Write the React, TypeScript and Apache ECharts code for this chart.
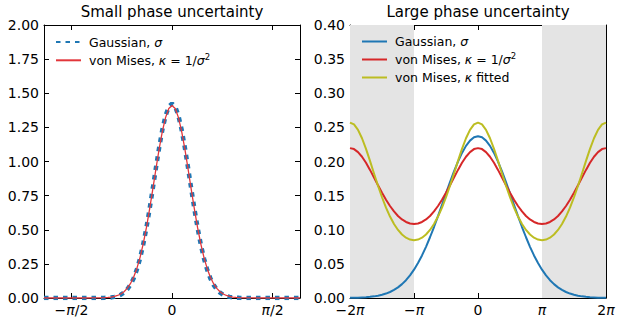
import React, { useEffect, useRef } from "react";
import * as echarts from "echarts";

const PI = Math.PI;
const FONT = "DejaVu Sans";

// ---------- Left panel: small phase uncertainty ----------
const xSmall = [
  -2.0, -1.95, -1.9, -1.85, -1.8, -1.75, -1.7, -1.65, -1.6, -1.55, -1.5, -1.45, -1.4, -1.35, -1.3, -1.25,
  -1.2, -1.15, -1.1, -1.05, -1.0, -0.95, -0.9, -0.85, -0.8, -0.75, -0.7, -0.65, -0.6, -0.55, -0.5, -0.45,
  -0.4, -0.35, -0.3, -0.25, -0.2, -0.15, -0.1, -0.05, 0.0, 0.05, 0.1, 0.15, 0.2, 0.25, 0.3, 0.35, 0.4,
  0.45, 0.5, 0.55, 0.6, 0.65, 0.7, 0.75, 0.8, 0.85, 0.9, 0.95, 1.0, 1.05, 1.1, 1.15, 1.2, 1.25, 1.3,
  1.35, 1.4, 1.45, 1.5, 1.55, 1.6, 1.65, 1.7, 1.75, 1.8, 1.85, 1.9, 1.95, 2.0,
];
const gaussSmall = [
  0, 0, 0, 0, 0, 0, 0, 0, 0, 0, 0, 0, 0, 0, 0, 0,
  0.0001, 0.0003, 0.0006, 0.0013, 0.0024, 0.0045, 0.0081, 0.0142, 0.024, 0.0394, 0.0626, 0.0963,
  0.1434, 0.207, 0.2893, 0.3917, 0.5136, 0.6523, 0.8026, 0.9564, 1.1039, 1.2344, 1.3368, 1.4023,
  1.4248,
  1.4023, 1.3368, 1.2344, 1.1039, 0.9564, 0.8026, 0.6523, 0.5136, 0.3917, 0.2893, 0.207, 0.1434,
  0.0963, 0.0626, 0.0394, 0.024, 0.0142, 0.0081, 0.0045, 0.0024, 0.0013, 0.0006, 0.0003, 0.0001,
  0, 0, 0, 0, 0, 0, 0, 0, 0, 0, 0, 0, 0, 0, 0, 0,
];
const vonMisesSmall = [
  0, 0, 0, 0, 0, 0, 0, 0, 0, 0, 0, 0, 0, 0,
  0.0001, 0.0002, 0.0004, 0.0007, 0.0013, 0.0023, 0.004, 0.0068, 0.0113, 0.0184, 0.0295, 0.046,
  0.0703, 0.1047, 0.152, 0.215, 0.296, 0.3962, 0.5153, 0.6509, 0.7979, 0.9487, 1.0938, 1.2222,
  1.3233, 1.3881,
  1.4104,
  1.3881, 1.3233, 1.2222, 1.0938, 0.9487, 0.7979, 0.6509, 0.5153, 0.3962, 0.296, 0.215, 0.152,
  0.1047, 0.0703, 0.046, 0.0295, 0.0184, 0.0113, 0.0068, 0.004, 0.0023, 0.0013, 0.0007, 0.0004,
  0.0002, 0.0001,
  0, 0, 0, 0, 0, 0, 0, 0, 0, 0, 0, 0, 0, 0,
];

// ---------- Right panel: large phase uncertainty (x in units of pi) ----------
const xLargeOverPi = [
  -2, -1.9375, -1.875, -1.8125, -1.75, -1.6875, -1.625, -1.5625, -1.5, -1.4375, -1.375, -1.3125, -1.25,
  -1.1875, -1.125, -1.0625, -1, -0.9375, -0.875, -0.8125, -0.75, -0.6875, -0.625, -0.5625, -0.5,
  -0.4375, -0.375, -0.3125, -0.25, -0.1875, -0.125, -0.0625, 0, 0.0625, 0.125, 0.1875, 0.25, 0.3125,
  0.375, 0.4375, 0.5, 0.5625, 0.625, 0.6875, 0.75, 0.8125, 0.875, 0.9375, 1, 1.0625, 1.125, 1.1875,
  1.25, 1.3125, 1.375, 1.4375, 1.5, 1.5625, 1.625, 1.6875, 1.75, 1.8125, 1.875, 1.9375, 2,
];
const gaussLarge = [
  0.0002, 0.0003, 0.0005, 0.0008, 0.0011, 0.0017, 0.0024, 0.0034, 0.0047, 0.0065, 0.0088, 0.0118,
  0.0156, 0.0203, 0.0261, 0.0332, 0.0415, 0.0513, 0.0624, 0.075, 0.089, 0.104, 0.12, 0.1366, 0.1533,
  0.1698, 0.1855, 0.1999, 0.2126, 0.2229, 0.2306, 0.2354,
  0.237,
  0.2354, 0.2306, 0.2229, 0.2126, 0.1999, 0.1855, 0.1698, 0.1533, 0.1366, 0.12, 0.104, 0.089, 0.075,
  0.0624, 0.0513, 0.0415, 0.0332, 0.0261, 0.0203, 0.0156, 0.0118, 0.0088, 0.0065, 0.0047, 0.0034,
  0.0024, 0.0017, 0.0011, 0.0008, 0.0005, 0.0003, 0.0002,
];
const vonMisesLarge = [
  0.2196, 0.2182, 0.2138, 0.207, 0.1981, 0.1877, 0.1766, 0.1653, 0.1543, 0.144, 0.1348, 0.1268,
  0.1202, 0.1151, 0.1114, 0.1092, 0.1084, 0.1092, 0.1114, 0.1151, 0.1202, 0.1268, 0.1348, 0.144,
  0.1543, 0.1653, 0.1766, 0.1877, 0.1981, 0.207, 0.2138, 0.2182,
  0.2196,
  0.2182, 0.2138, 0.207, 0.1981, 0.1877, 0.1766, 0.1653, 0.1543, 0.144, 0.1348, 0.1268, 0.1202,
  0.1151, 0.1114, 0.1092, 0.1084, 0.1092, 0.1114, 0.1151, 0.1202, 0.1268, 0.1348, 0.144, 0.1543,
  0.1653, 0.1766, 0.1877, 0.1981, 0.207, 0.2138, 0.2182, 0.2196,
];
const vonMisesFitted = [
  0.2571, 0.2543, 0.2464, 0.2341, 0.2185, 0.2009, 0.1825, 0.1645, 0.1476, 0.1324, 0.1193, 0.1084,
  0.0997, 0.093, 0.0884, 0.0856, 0.0847, 0.0856, 0.0884, 0.093, 0.0997, 0.1084, 0.1193, 0.1324,
  0.1476, 0.1645, 0.1825, 0.2009, 0.2185, 0.2341, 0.2464, 0.2543,
  0.2571,
  0.2543, 0.2464, 0.2341, 0.2185, 0.2009, 0.1825, 0.1645, 0.1476, 0.1324, 0.1193, 0.1084, 0.0997,
  0.093, 0.0884, 0.0856, 0.0847, 0.0856, 0.0884, 0.093, 0.0997, 0.1084, 0.1193, 0.1324, 0.1476,
  0.1645, 0.1825, 0.2009, 0.2185, 0.2341, 0.2464, 0.2543, 0.2571,
];

const titles = ["Small phase uncertainty", "Large phase uncertainty"];
const smallTicks = [-PI / 2, 0, PI / 2];
const largeTicks = [-2 * PI, -PI, 0, PI, 2 * PI];
const shadedRegions = [
  [-2 * PI, -PI],
  [PI, 2 * PI],
];
const legendLabels: Record<string, string> = {
  gS: "Gaussian, {i|σ}",
  vmS: "von Mises, {i|κ} = 1/{i|σ}{sup|2}",
  gL: "Gaussian, {i|σ}",
  vmL: "von Mises, {i|κ} = 1/{i|σ}{sup|2}",
  vmF: "von Mises, {i|κ} fitted",
};

const BLUE = "#1f77b4";
const RED = "#d62728";
const OLIVE = "#bcbd22";

const labelRich = {
  i: { fontStyle: "italic", fontFamily: FONT, fontSize: 14, color: "#000" },
};

function smallFmt(v: number) {
  if (v < -0.1) return "−{i|π}/2";
  if (v > 0.1) return "{i|π}/2";
  return "0";
}
function largeFmt(v: number) {
  const k = Math.round(v / PI);
  const m: Record<string, string> = { "-2": "−2{i|π}", "-1": "−{i|π}", "0": "0", "1": "{i|π}", "2": "2{i|π}" };
  return m[String(k)];
}

function xAx(gridIndex: number, position: string, min: number, max: number, ticks: number[], fmt: any, showLabel: boolean) {
  return {
    type: "value",
    gridIndex,
    position,
    min,
    max,
    axisLine: { show: true, onZero: false, lineStyle: { color: "#000", width: 1 } },
    axisTick: { show: true, inside: true, length: 5, lineStyle: { color: "#000", width: 1 }, customValues: ticks },
    axisLabel: {
      show: showLabel,
      customValues: ticks,
      formatter: fmt,
      margin: 5,
      color: "#000",
      fontFamily: FONT,
      fontSize: 14,
      rich: labelRich,
    },
    splitLine: { show: false },
  };
}
function yAx(gridIndex: number, position: string, max: number, interval: number, showLabel: boolean) {
  return {
    type: "value",
    gridIndex,
    position,
    min: 0,
    max,
    interval,
    axisLine: { show: true, onZero: false, lineStyle: { color: "#000", width: 1 } },
    axisTick: { show: true, inside: true, length: 5, lineStyle: { color: "#000", width: 1 } },
    axisLabel: {
      show: showLabel,
      formatter: (v: number) => v.toFixed(2),
      margin: 5,
      color: "#000",
      fontFamily: FONT,
      fontSize: 14,
    },
    splitLine: { show: false },
  };
}

const legendText = {
  color: "#000",
  fontFamily: FONT,
  fontSize: 12.5,
  lineHeight: 16,
  padding: [0, 0, 0, 3],
  rich: {
    i: { fontStyle: "italic", fontFamily: FONT, fontSize: 12.5, color: "#000", lineHeight: 16 },
    sup: { fontFamily: FONT, fontSize: 8.5, color: "#000", verticalAlign: "top", lineHeight: 9 },
  },
};

function legendBox(left: number, top: number, gap: number, names: string[]) {
  return {
    left,
    top,
    orient: "vertical",
    padding: 0,
    itemWidth: 25,
    itemHeight: 10,
    itemGap: gap,
    selectedMode: false,
    data: names,
    formatter: (n: string) => legendLabels[n],
    textStyle: legendText,
    itemStyle: { opacity: 0 },
  };
}

export default function App() {
  const ref = useRef<HTMLDivElement>(null);
  useEffect(() => {
    const chart = echarts.init(ref.current!, null, { renderer: "svg" });
    const option: any = {
      animation: false,
      backgroundColor: "#fff",
      grid: [
        { left: 44, top: 25, width: 256, height: 273 },
        { left: 350, top: 25, width: 256, height: 273 },
      ],
      xAxis: [
        xAx(0, "bottom", -2, 2, smallTicks, smallFmt, true),
        xAx(0, "top", -2, 2, smallTicks, smallFmt, false),
        xAx(1, "bottom", -2 * PI, 2 * PI, largeTicks, largeFmt, true),
        xAx(1, "top", -2 * PI, 2 * PI, largeTicks, largeFmt, false),
      ],
      yAxis: [
        yAx(0, "left", 2, 0.25, true),
        yAx(0, "right", 2, 0.25, false),
        yAx(1, "left", 0.4, 0.05, true),
        yAx(1, "right", 0.4, 0.05, false),
      ],
      legend: [
        legendBox(55, 34, 2.3, ["gS", "vmS"]),
        legendBox(361, 33.5, 2.0, ["gL", "vmL", "vmF"]),
      ],
      graphic: [
        {
          type: "text",
          x: 172,
          y: 4,
          style: { text: titles[0], fontFamily: FONT, fontSize: 15, fill: "#000", align: "center", verticalAlign: "top" },
        },
        {
          type: "text",
          x: 478,
          y: 4,
          style: { text: titles[1], fontFamily: FONT, fontSize: 15, fill: "#000", align: "center", verticalAlign: "top" },
        },
      ],
      series: [
        {
          type: "line",
          name: "gS",
          xAxisIndex: 0,
          yAxisIndex: 0,
          data: xSmall.map((x, i) => [x, gaussSmall[i]]),
          symbol: "none",
          lineStyle: { color: BLUE, width: 4.5, type: [4.5, 5], cap: "butt" },
          itemStyle: { color: BLUE },
          z: 2,
        },
        {
          type: "line",
          name: "vmS",
          xAxisIndex: 0,
          yAxisIndex: 0,
          data: xSmall.map((x, i) => [x, vonMisesSmall[i]]),
          symbol: "none",
          lineStyle: { color: "#e2363b", width: 1.3 },
          itemStyle: { color: "#e2363b" },
          z: 3,
        },
        {
          type: "line",
          name: "gL",
          xAxisIndex: 2,
          yAxisIndex: 2,
          data: xLargeOverPi.map((x, i) => [x * PI, gaussLarge[i]]),
          symbol: "none",
          lineStyle: { color: BLUE, width: 2 },
          itemStyle: { color: BLUE },
          markArea: {
            silent: true,
            itemStyle: { color: "#e4e4e4" },
            data: shadedRegions.map(([a, b]) => [{ xAxis: a }, { xAxis: b }]),
          },
          z: 2,
        },
        {
          type: "line",
          name: "vmL",
          xAxisIndex: 2,
          yAxisIndex: 2,
          data: xLargeOverPi.map((x, i) => [x * PI, vonMisesLarge[i]]),
          symbol: "none",
          lineStyle: { color: RED, width: 2 },
          itemStyle: { color: RED },
          z: 3,
        },
        {
          type: "line",
          name: "vmF",
          xAxisIndex: 2,
          yAxisIndex: 2,
          data: xLargeOverPi.map((x, i) => [x * PI, vonMisesFitted[i]]),
          symbol: "none",
          lineStyle: { color: OLIVE, width: 2 },
          itemStyle: { color: OLIVE },
          z: 4,
        },
      ],
    };
    chart.setOption(option);
    return () => chart.dispose();
  }, []);
  return (
    <div
      ref={ref}
      style={{ position: "fixed", left: 0, top: 0, width: 623, height: 324, background: "#fff" }}
    />
  );
}
